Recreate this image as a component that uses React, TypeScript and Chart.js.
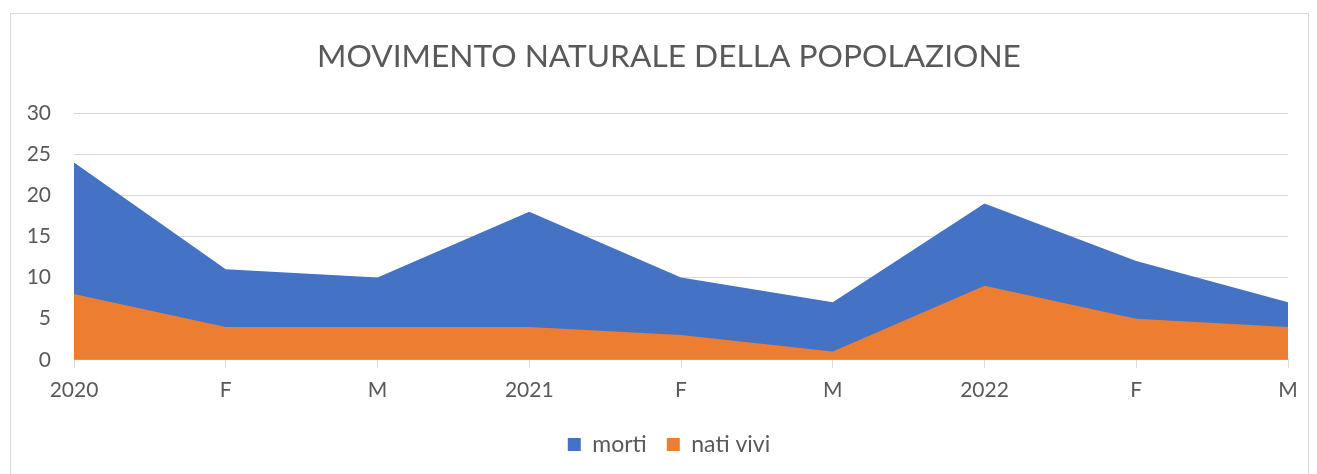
import React, { useEffect, useRef } from "react";
import { Chart, registerables } from "chart.js";

Chart.register(...registerables);

const categories = ["2020", "F", "M", "2021", "F", "M", "2022", "F", "M"];
const morti = [24, 11, 10, 18, 10, 7, 19, 12, 7];
const natiVivi = [8, 4, 4, 4, 3, 1, 9, 5, 4];
const yTicks = [0, 5, 10, 15, 20, 25, 30];

const FONT = "Lato, 'Open Sans', sans-serif";
const TEXT = "#595959";
const GRID = "#D9D9D9";
const PAD_LEFT = 21;
const PLOT_LEFT = 74;
const RIGHT_SPACE = 29;

const framePlugin = {
  id: "frame",
  beforeDraw(chart: any) {
    const ctx = chart.ctx;
    ctx.save();
    ctx.fillStyle = "#ffffff";
    ctx.fillRect(0, 0, chart.width, chart.height);
    ctx.strokeStyle = GRID;
    ctx.lineWidth = 1;
    ctx.strokeRect(10.5, 13.5, 1298, 470);
    ctx.restore();
  },
};

export default function App() {
  const ref = useRef<HTMLCanvasElement | null>(null);

  useEffect(() => {
    if (!ref.current) return;
    const chart = new Chart(ref.current, {
      type: "line",
      data: {
        labels: categories,
        datasets: [
          {
            label: "nati vivi",
            data: natiVivi,
            backgroundColor: "#ED7D31",
            borderColor: "#ED7D31",
            borderWidth: 0,
            fill: "origin",
            pointRadius: 0,
            tension: 0,
          },
          {
            label: "morti",
            data: morti,
            backgroundColor: "#4472C4",
            borderColor: "#4472C4",
            borderWidth: 0,
            fill: "origin",
            pointRadius: 0,
            tension: 0,
          },
        ],
      },
      options: {
        responsive: false,
        animation: false,
        layout: { padding: { left: PAD_LEFT, right: 0, top: 20, bottom: 8 } },
        plugins: {
          title: {
            display: true,
            text: "MOVIMENTO NATURALE DELLA POPOLAZIONE",
            color: TEXT,
            font: { family: FONT, size: 31.7, weight: "normal" },
            padding: { top: 18, bottom: 37 },
          },
          legend: {
            display: true,
            position: "bottom",
            reverse: true,
            labels: {
              color: TEXT,
              font: { family: FONT, size: 23 },
              boxWidth: 13,
              boxHeight: 13,
              padding: 20,
            },
          },
          tooltip: { enabled: false },
        },
        scales: {
          x: {
            offset: false,
            grid: {
              drawOnChartArea: false,
              drawTicks: true,
              tickLength: 8,
              color: GRID,
            },
            border: { display: true, color: GRID, width: 1 },
            ticks: {
              color: TEXT,
              font: { family: FONT, size: 21 },
              padding: 10,
              maxRotation: 0,
              autoSkip: false,
            },
          },
          y: {
            min: 0,
            max: 30,
            afterBuildTicks(scale: any) {
              scale.ticks = yTicks.map((v) => ({ value: v }));
            },
            afterFit(scale: any) {
              scale.width = PLOT_LEFT - PAD_LEFT;
            },
            grid: { color: GRID, drawTicks: false },
            border: { display: false },
            ticks: {
              color: TEXT,
              font: { family: FONT, size: 21 },
              padding: 23,
            },
          },
          ySpacer: {
            type: "linear",
            position: "right",
            min: 0,
            max: 30,
            afterFit(scale: any) {
              scale.width = RIGHT_SPACE;
            },
            grid: { display: false, drawOnChartArea: false },
            border: { display: false },
            ticks: { display: false },
          },
        },
      },
      plugins: [framePlugin],
    });
    return () => chart.destroy();
  }, []);

  return (
    <div style={{ position: "fixed", left: 0, top: 0, width: 1317, height: 474 }}>
      <canvas ref={ref} width={1317} height={474} />
    </div>
  );
}
